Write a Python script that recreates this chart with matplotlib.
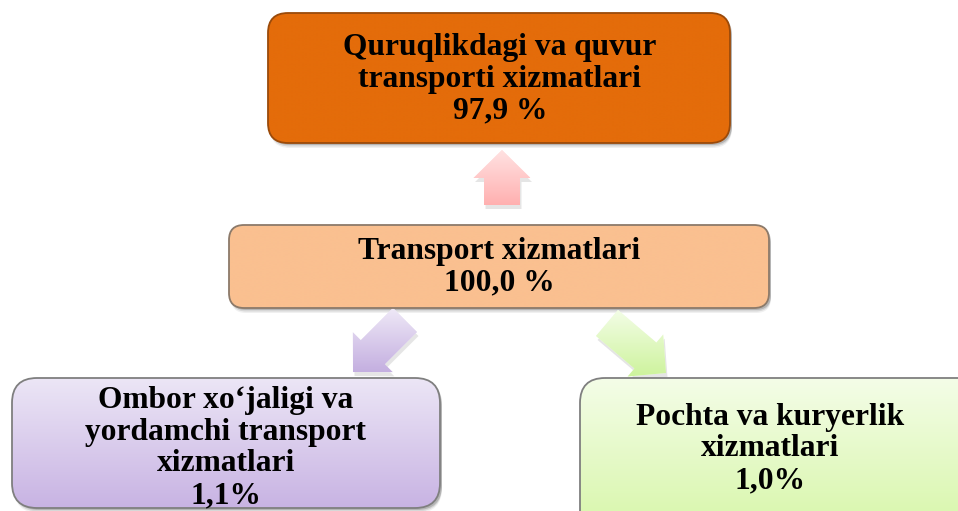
"""
Transport xizmatlari tarkibi - structure diagram.
"""

import numpy as np
import matplotlib.pyplot as plt
from matplotlib.colors import LinearSegmentedColormap
from matplotlib.patches import FancyBboxPatch, Polygon

# Data
NODE_NAMES = [
    "Quruqlikdagi va quvur\ntransporti xizmatlari",
    "Transport xizmatlari",
    "Ombor xo‘jaligi va\nyordamchi transport\nxizmatlari",
    "Pochta va kuryerlik\nxizmatlari",
]
NODE_SHARES = ["97,9 %", "100,0 %", "1,1%", "1,0%"]

# Layout (pixel coordinates, y down)
W, H = 958, 511
BOXES = [
    (268, 13, 730, 143, 20),    # x0, y0, x1, y1, corner radius
    (229, 225, 769, 308, 15),
    (12, 378, 440, 508, 25),
    (580, 378, 985, 540, 25),
]
TEXT_POS = [(500, 79), (499, 267), (226, 448), (770, 449)]
BOX_COLORS = [
    ("#e46c0a", "#e46c0a", "#9a4a0a"),
    ("#fac090", "#fac090", "#8c7a6a"),
    ("#ece6f6", "#c8b3e3", "#7f7f7f"),
    ("#f4fde8", "#d6f6a6", "#7f7f7f"),
]

# arrows: tail centre, tip, shaft width, head width, head length, colours
ARROWS = [
    ((502, 205), (502, 150), 36, 57, 28, "#ffe2e2", "#ffb0b0"),
    ((405, 320), (353, 372), 34, 57, 28, "#efe9f7", "#c4afe0"),
    ((607, 323), (666, 373), 34, 55, 27, "#f3fde6", "#cdf39c"),
]


def gradient_fill(ax, patch, extent, c_top, c_bottom, zorder):
    cmap = LinearSegmentedColormap.from_list("g", [c_top, c_bottom])
    grad = np.linspace(0, 1, 256).reshape(-1, 1)
    im = ax.imshow(grad, cmap=cmap, extent=extent, origin="upper",
                   aspect="auto", zorder=zorder, interpolation="bilinear")
    im.set_clip_path(patch)


def arrow_polygon(tail, tip, shaft_w, head_w, head_l):
    tail = np.array(tail, float)
    tip = np.array(tip, float)
    d = tip - tail
    length = np.hypot(*d)
    u = d / length
    n = np.array([-u[1], u[0]])
    base = tip - u * head_l
    pts = [
        tail + n * shaft_w / 2,
        base + n * shaft_w / 2,
        base + n * head_w / 2,
        tip,
        base - n * head_w / 2,
        base - n * shaft_w / 2,
        tail - n * shaft_w / 2,
    ]
    return np.array(pts)


fig = plt.figure(figsize=(W / 100, H / 100), dpi=100)
ax = fig.add_axes([0, 0, 1, 1])

for (x0, y0, x1, y1, r), (c_top, c_bot, edge) in zip(BOXES, BOX_COLORS):
    # soft shadow
    for k, a in [(5, 0.06), (3.5, 0.10), (2, 0.16)]:
        sh = FancyBboxPatch((x0 + 2, y0 + k), x1 - x0, y1 - y0,
                            boxstyle=f"round,pad=0,rounding_size={r}",
                            facecolor="#000000", edgecolor="none", alpha=a,
                            zorder=1)
        ax.add_patch(sh)
    box = FancyBboxPatch((x0, y0), x1 - x0, y1 - y0,
                         boxstyle=f"round,pad=0,rounding_size={r}",
                         facecolor=c_top, edgecolor="none", zorder=2)
    ax.add_patch(box)
    gradient_fill(ax, box, (x0, x1, y1, y0), c_top, c_bot, zorder=3)
    border = FancyBboxPatch((x0, y0), x1 - x0, y1 - y0,
                            boxstyle=f"round,pad=0,rounding_size={r}",
                            facecolor="none", edgecolor=edge, linewidth=1.3,
                            zorder=4)
    ax.add_patch(border)

for tail, tip, sw, hw, hl, c1, c2 in ARROWS:
    pts = arrow_polygon(tail, tip, sw, hw, hl)
    shadow = Polygon(pts + np.array([1.5, 4]), closed=True,
                     facecolor="#000000", edgecolor="none", alpha=0.10,
                     zorder=1)
    ax.add_patch(shadow)
    poly = Polygon(pts, closed=True, facecolor=c1, edgecolor="none", zorder=2)
    ax.add_patch(poly)
    gradient_fill(ax, poly, (pts[:, 0].min(), pts[:, 0].max(),
                             pts[:, 1].max(), pts[:, 1].min()),
                  c1, c2, zorder=3)

for name, share, (tx, ty) in zip(NODE_NAMES, NODE_SHARES, TEXT_POS):
    ax.text(tx, ty, f"{name}\n{share}", ha="center", va="center",
            fontsize=22.7, fontweight="bold", family="Liberation Serif",
            linespacing=1.12, color="black", zorder=5)

ax.set_xlim(0, W)
ax.set_ylim(H, 0)
ax.axis("off")

fig.savefig("out.png", dpi=100)
